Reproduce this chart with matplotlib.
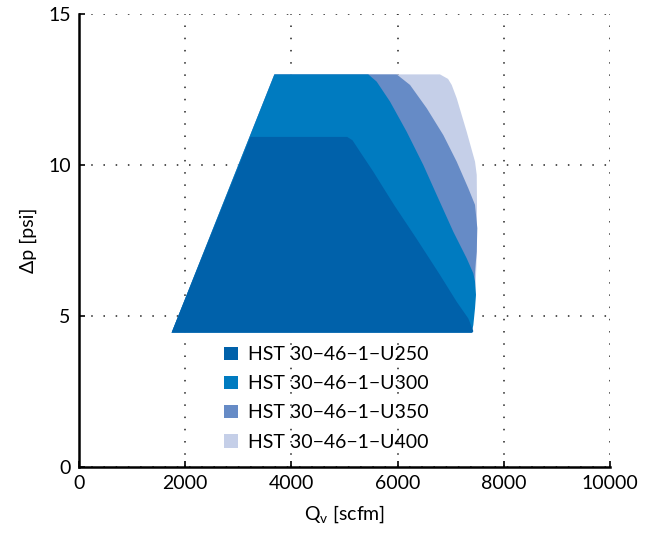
import matplotlib
matplotlib.use('Agg')
import matplotlib.pyplot as plt
from matplotlib.patches import Patch

plt.rcParams['font.family'] = ['Lato', 'DejaVu Sans']
plt.rcParams['font.size'] = 14

# operating envelopes, Qv [scfm] vs dp [psi]
labels = ['HST 30\u221246\u22121\u2212U250', 'HST 30\u221246\u22121\u2212U300',
          'HST 30\u221246\u22121\u2212U350', 'HST 30\u221246\u22121\u2212U400']
colors = ['#0061aa', '#007bc0', '#668bc6', '#c5cfe8']

q_u250 = [1745, 3230, 5050, 5150, 5292, 5542, 5740, 5940, 6360, 6798, 7113, 7331, 7426, 7410]
dp_u250 = [4.45, 10.93, 10.93, 10.82, 10.44, 9.78, 9.22, 8.66, 7.55, 6.36, 5.47, 4.92, 4.5, 4.45]

q_u300 = [1745, 3680, 5448, 5606, 5857, 6171, 6484, 6736, 7049, 7301, 7426, 7458, 7476, 7458, 7426, 7395]
dp_u300 = [4.45, 13.0, 13.0, 12.76, 12.10, 11.10, 10.0, 9.01, 7.79, 6.91, 6.41, 6.14, 5.70, 5.26, 4.70, 4.45]

q_u350 = [1745, 3680, 5983, 6234, 6548, 6861, 7113, 7331, 7458, 7501, 7490, 7458, 7439, 7400]
dp_u350 = [4.45, 13.0, 13.0, 12.65, 11.88, 10.99, 10.11, 9.23, 8.68, 7.91, 7.13, 6.47, 5.5, 4.45]

q_u400 = [1745, 3680, 6798, 6950, 7019, 7113, 7301, 7458, 7490, 7495, 7495, 7458, 7400]
dp_u400 = [4.45, 13.0, 13.0, 12.85, 12.65, 12.21, 11.10, 10.11, 9.67, 8.68, 7.2, 5.5, 4.45]

fig = plt.figure(figsize=(6.5, 5.36), dpi=100)
ax = fig.add_axes([0.1215, 0.1287, 0.817, 0.8452])

# back to front
shapes = [(q_u400, dp_u400), (q_u350, dp_u350), (q_u300, dp_u300), (q_u250, dp_u250)]
for (q, dp), c in zip(shapes, colors[::-1]):
    ax.fill(q, dp, color=c, lw=0)

ax.set_xlim(0, 10000)
ax.set_ylim(0, 15)
ax.set_xticks([0, 2000, 4000, 6000, 8000, 10000])
ax.set_yticks([0, 5, 10, 15])
ax.set_axisbelow(True)
ax.grid(True, color='#222222', linestyle=(0, (1, 7)), linewidth=1.1)
ax.spines['top'].set_visible(False)
ax.spines['right'].set_visible(False)
ax.spines['left'].set_linewidth(1.8)
ax.spines['bottom'].set_linewidth(1.8)
ax.tick_params(direction='in', length=4, width=1.2, labelsize=14, pad=6)

ax.set_xlabel('Q$_\\mathregular{v}$ [scfm]', fontsize=14, labelpad=8)
ax.set_ylabel('\u0394p [psi]', fontsize=14, labelpad=8)

handles = [Patch(facecolor=c, edgecolor='none') for c in colors]
ax.legend(handles, labels, loc='upper left', bbox_to_anchor=(0.24, 0.305),
          frameon=False, fontsize=14, handlelength=0.7, handleheight=0.7,
          handletextpad=0.55, labelspacing=0.62)

fig.savefig('out.png', dpi=100)
